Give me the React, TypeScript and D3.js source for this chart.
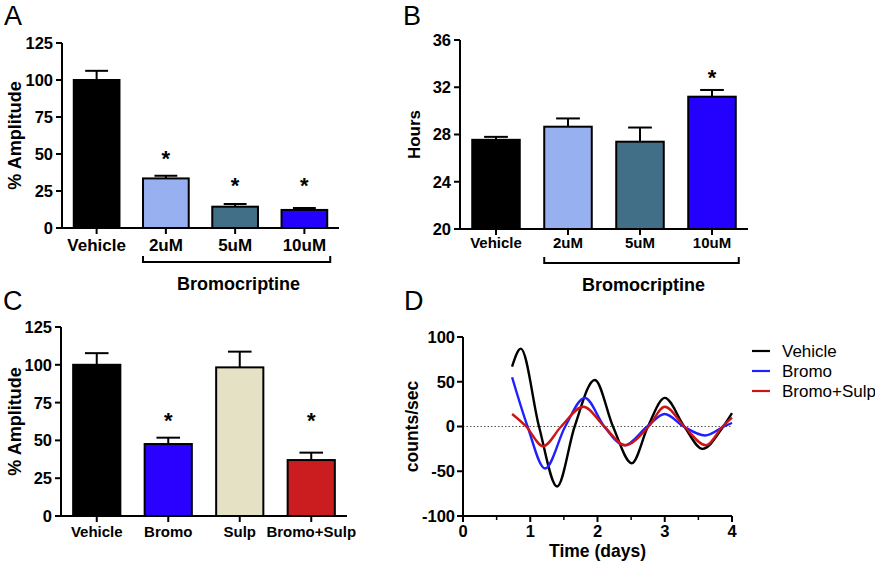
import React from "react";
import * as d3 from "d3";

// ---------- DATA ----------
const aCategories = ["Vehicle", "2uM", "5uM", "10uM"];
const aMeans = [100, 33.5, 14.4, 12.2];
const aErrors = [6.2, 1.8, 1.8, 1.3];
const aStars: (number | null)[] = [null, 50, 32, 32];
const aColors = ["#000000", "#97b0f0", "#416f88", "#2400ff"];
const aTicks = [0, 25, 50, 75, 100, 125];

const bCategories = ["Vehicle", "2uM", "5uM", "10uM"];
const bMeans = [27.55, 28.66, 27.39, 31.2];
const bErrors = [0.25, 0.7, 1.2, 0.57];
const bStars: (number | null)[] = [null, null, null, 33.2];
const bColors = ["#000000", "#97b0f0", "#416f88", "#2400ff"];
const bTicks = [20, 24, 28, 32, 36];

const cCategories = ["Vehicle", "Bromo", "Sulp", "Bromo+Sulp"];
const cMeans = [100, 47.6, 98.3, 37];
const cErrors = [7.7, 4.2, 10.4, 4.9];
const cStars: (number | null)[] = [null, 66, null, 66];
const cColors = ["#000000", "#2a00ff", "#e5e1c4", "#cb1c1f"];
const cTicks = [0, 25, 50, 75, 100, 125];

const dSeriesNames = ["Vehicle", "Bromo", "Bromo+Sulp"];
const dColors = ["#000000", "#1f1fff", "#cc1414"];
const dVehicle: [number, number][] = [
  [0.73, 67], [0.86, 87], [1.13, 0], [1.4, -67], [1.66, 0], [1.96, 52],
  [2.23, 0], [2.51, -41], [2.75, 0], [3.0, 32], [3.29, 0], [3.56, -25],
  [3.87, 0], [4.0, 15],
];
const dBromo: [number, number][] = [
  [0.73, 55], [0.96, 0], [1.22, -47], [1.52, 0], [1.81, 32], [2.1, 0],
  [2.4, -21], [2.74, 0], [3.0, 14], [3.28, 0], [3.6, -10], [3.88, 0],
  [4.0, 4],
];
const dBromoSulp: [number, number][] = [
  [0.73, 14], [0.94, 0], [1.19, -22], [1.46, 0], [1.79, 22], [2.1, 0],
  [2.41, -21], [2.76, 0], [3.0, 22], [3.29, 0], [3.61, -21], [3.86, 0],
  [4.0, 10],
];
const dSeries = [dVehicle, dBromo, dBromoSulp];
const dYTicks = [-100, -50, 0, 50, 100];
const dXMajor = [0, 1, 2, 3, 4];
const dXMinor = [0.5, 1.5, 2.5, 3.5];

const FONT = "Arial, 'Liberation Sans', Helvetica, sans-serif";

type BarProps = {
  left: number; right: number; top: number; bottom: number;
  domain: [number, number];
  ticks: number[];
  cats: string[]; means: number[]; errors: number[]; stars: (number | null)[];
  colors: string[];
  xLabelSize: number;
  xLabelDy: number;
  yTitle: string; yTitleX: number; yTitleSize: number;
  bracket?: { label: string; y: number; labelY: number };
};

function BarPanel(p: BarProps) {
  const x = d3.scaleBand<string>().domain(p.cats).range([p.left, p.right]).paddingInner(0.34).paddingOuter(0.17);
  const y = d3.scaleLinear().domain(p.domain).range([p.bottom, p.top]);
  const bw = x.bandwidth();
  const firstIdx = 1;
  const lastIdx = p.cats.length - 1;
  return (
    <g fontFamily={FONT}>
      {p.cats.map((c, i) => {
        const x0 = x(c)!;
        const yTop = y(p.means[i]);
        const yErr = y(p.means[i] + p.errors[i]);
        const cx = x0 + bw / 2;
        return (
          <g key={c}>
            <line x1={cx} x2={cx} y1={yTop} y2={yErr} stroke="#000" strokeWidth={2} />
            <line x1={cx - bw / 4} x2={cx + bw / 4} y1={yErr} y2={yErr} stroke="#000" strokeWidth={2} />
            <rect x={x0} y={yTop} width={bw} height={p.bottom - yTop} fill={p.colors[i]} stroke="#000" strokeWidth={2} />
            {p.stars[i] !== null && (
              <text x={cx} y={y(p.stars[i] as number) + 12} textAnchor="middle" fontSize={22} fontWeight="bold">*</text>
            )}
            <line x1={cx} x2={cx} y1={p.bottom} y2={p.bottom + 6} stroke="#000" strokeWidth={2} />
            <text x={cx} y={p.bottom + p.xLabelDy} textAnchor="middle" fontSize={p.xLabelSize} fontWeight="bold">{c}</text>
          </g>
        );
      })}
      <line x1={p.left} x2={p.left} y1={p.top} y2={p.bottom} stroke="#000" strokeWidth={2} />
      <line x1={p.left - 6} x2={p.right} y1={p.bottom} y2={p.bottom} stroke="#000" strokeWidth={2} />
      {p.ticks.map((t) => (
        <g key={t}>
          <line x1={p.left - 6} x2={p.left} y1={y(t)} y2={y(t)} stroke="#000" strokeWidth={2} />
          <text x={p.left - 9} y={y(t)} dy="0.36em" textAnchor="end" fontSize={16.5} fontWeight="bold">{t}</text>
        </g>
      ))}
      <text
        transform={`translate(${p.yTitleX},${(p.top + p.bottom) / 2}) rotate(-90)`}
        textAnchor="middle" fontSize={p.yTitleSize} fontWeight="bold"
      >{p.yTitle}</text>
      {p.bracket && (() => {
        const bx0 = x(p.cats[firstIdx])!;
        const bx1 = x(p.cats[lastIdx])! + bw + 3;
        const by = p.bracket.y;
        return (
          <g>
            <path d={`M${bx0},${by - 6}V${by}H${bx1}V${by - 6}`} fill="none" stroke="#000" strokeWidth={2} />
            <text x={(bx0 + bx1) / 2 + 2} y={p.bracket.labelY} textAnchor="middle" fontSize={18} fontWeight="bold">{p.bracket.label}</text>
          </g>
        );
      })()}
    </g>
  );
}

function LinePanel() {
  const left = 463, right = 732, top = 337, bottom = 516;
  const x = d3.scaleLinear().domain([0, 4]).range([left, right]);
  const y = d3.scaleLinear().domain([-100, 100]).range([bottom, top]);
  const line = d3.line<[number, number]>().x((d) => x(d[0])).y((d) => y(d[1])).curve(d3.curveMonotoneX);
  return (
    <g fontFamily={FONT}>
      <line x1={left} x2={right} y1={y(0)} y2={y(0)} stroke="#555" strokeWidth={1} strokeDasharray="1.5,2" />
      {dSeries.map((s, i) => (
        <path key={i} d={line(s) || ""} fill="none" stroke={dColors[i]} strokeWidth={2.4} />
      ))}
      <line x1={left} x2={left} y1={top} y2={bottom} stroke="#000" strokeWidth={2} />
      <line x1={left} x2={right} y1={bottom} y2={bottom} stroke="#000" strokeWidth={2} />
      {dYTicks.map((t) => (
        <g key={t}>
          <line x1={left - 6} x2={left} y1={y(t)} y2={y(t)} stroke="#000" strokeWidth={2} />
          <text x={left - 8} y={y(t)} dy="0.36em" textAnchor="end" fontSize={16.5} fontWeight="bold">{t}</text>
        </g>
      ))}
      {dXMajor.map((t) => (
        <g key={t}>
          <line x1={x(t)} x2={x(t)} y1={bottom} y2={bottom + 6} stroke="#000" strokeWidth={2} />
          <text x={x(t)} y={bottom + 21} textAnchor="middle" fontSize={16.5} fontWeight="bold">{t}</text>
        </g>
      ))}
      {dXMinor.map((t) => (
        <line key={t} x1={x(t)} x2={x(t)} y1={bottom} y2={bottom + 4} stroke="#000" strokeWidth={1.5} />
      ))}
      <text x={(left + right) / 2} y={557} textAnchor="middle" fontSize={17.5} fontWeight="bold">Time (days)</text>
      <text transform={`translate(418,${(top + bottom) / 2}) rotate(-90)`} textAnchor="middle" fontSize={17.5} fontWeight="bold">counts/sec</text>
      {dSeriesNames.map((n, i) => (
        <g key={n}>
          <line x1={752} x2={770} y1={351 + i * 20} y2={351 + i * 20} stroke={dColors[i]} strokeWidth={2.2} />
          <text x={782} y={351 + i * 20 + 6} fontSize={17}>{n}</text>
        </g>
      ))}
    </g>
  );
}

export default function App() {
  return (
    <svg width={875} height={564} style={{ position: "absolute", left: 0, top: 0, background: "#fff" }}>
      <rect width={875} height={564} fill="#fff" />
      <g fontFamily={FONT} fontSize={27}>
        <text x={4} y={25}>A</text>
        <text x={403} y={25}>B</text>
        <text x={3} y={310}>C</text>
        <text x={404} y={310}>D</text>
      </g>
      <BarPanel
        left={62} right={339} top={43} bottom={228} domain={[0, 125]} ticks={aTicks}
        cats={aCategories} means={aMeans} errors={aErrors} stars={aStars} colors={aColors}
        xLabelSize={17} xLabelDy={23}
        yTitle="% Amplitude" yTitleX={21} yTitleSize={18}
        bracket={{ label: "Bromocriptine", y: 262, labelY: 290 }}
      />
      <BarPanel
        left={460} right={748} top={40} bottom={229} domain={[20, 36]} ticks={bTicks}
        cats={bCategories} means={bMeans} errors={bErrors} stars={bStars} colors={bColors}
        xLabelSize={15} xLabelDy={19}
        yTitle="Hours" yTitleX={420} yTitleSize={17}
        bracket={{ label: "Bromocriptine", y: 263, labelY: 291 }}
      />
      <BarPanel
        left={61} right={347} top={327} bottom={516} domain={[0, 125]} ticks={cTicks}
        cats={cCategories} means={cMeans} errors={cErrors} stars={cStars} colors={cColors}
        xLabelSize={15} xLabelDy={21}
        yTitle="% Amplitude" yTitleX={21} yTitleSize={18}
      />
      <LinePanel />
    </svg>
  );
}
